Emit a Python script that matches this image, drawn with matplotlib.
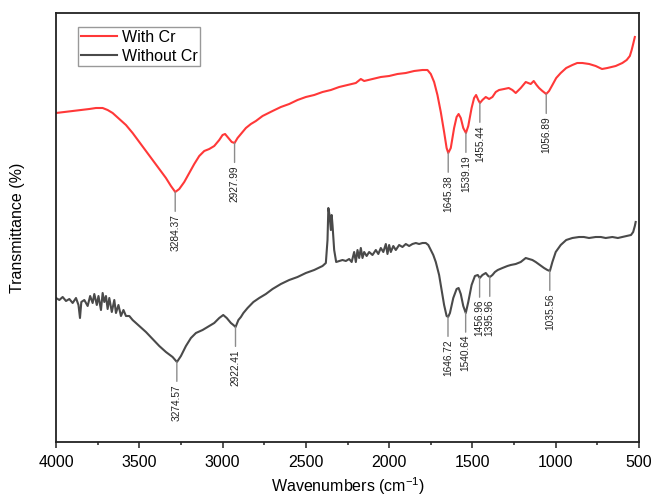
import matplotlib
matplotlib.use("Agg")
import matplotlib.pyplot as plt
import numpy as np

plt.rcParams['font.family'] = ['Liberation Sans', 'DejaVu Sans']
plt.rcParams['mathtext.default'] = 'regular'

# FTIR spectra (wavenumber, transmittance in arbitrary units)
with_cr_wn = [4000, 3950, 3900, 3850, 3800, 3760, 3720, 3690, 3660, 3620, 3580, 3540,
              3500, 3460, 3420, 3380, 3340, 3310, 3284, 3260, 3230, 3200, 3170, 3140,
              3110, 3080, 3050, 3020, 3000, 2985, 2965, 2945, 2928, 2910, 2890, 2860,
              2830, 2800, 2760, 2700, 2650, 2600, 2550, 2500, 2450, 2400, 2350, 2300,
              2250, 2200, 2170, 2150, 2100, 2050, 2000, 1950, 1900, 1850, 1800, 1770,
              1750, 1730, 1710, 1690, 1670, 1655, 1645, 1630, 1610, 1595, 1583, 1570,
              1555, 1539, 1525, 1505, 1490, 1478, 1465, 1455, 1440, 1420, 1400, 1380,
              1360, 1340, 1310, 1282, 1260, 1240, 1210, 1180, 1165, 1150, 1132, 1115,
              1100, 1080, 1057, 1040, 1020, 997, 970, 937, 900, 871, 840, 799,
              760, 722, 690, 640, 600, 574, 555, 544, 535, 525]
with_cr_t = [329, 330, 331, 332, 333, 334, 334, 332, 329, 323, 317, 309,
             300, 291, 282, 273, 264, 256, 250, 253, 260, 269, 278, 286,
             291, 293, 296, 302, 307, 308, 304, 300, 299, 304, 308, 314,
             318, 321, 326, 331, 335, 338, 342, 345, 347, 350, 352, 355,
             357, 359, 363, 361, 363, 365, 366, 368, 369, 371, 372, 372,
             368, 360, 347, 330, 310, 294, 289, 294, 314, 325, 328, 324,
             314, 309, 316, 334, 344, 347, 342, 339, 342, 345, 343, 345,
             350, 352, 353, 354, 352, 349, 354, 360, 359, 358, 361, 357,
             354, 351, 348, 351, 357, 364, 369, 374, 377, 379, 379, 378,
             376, 373, 374, 376, 379, 382, 386, 392, 398, 405]

without_cr_wn = [4000, 3980, 3960, 3940, 3920, 3900, 3880, 3865, 3856, 3848, 3830, 3810,
                 3795, 3780, 3770, 3755, 3745, 3730, 3720, 3710, 3700, 3690, 3680, 3665,
                 3650, 3640, 3625, 3610, 3595, 3580, 3560, 3540, 3500, 3460, 3420, 3380,
                 3340, 3300, 3274, 3250, 3220, 3190, 3160, 3120, 3080, 3050, 3020, 2996,
                 2975, 2950, 2935, 2922, 2905, 2890, 2875, 2850, 2815, 2780, 2740, 2700,
                 2650, 2600, 2550, 2500, 2450, 2400, 2380, 2370, 2365, 2358, 2350, 2345,
                 2340, 2330, 2318, 2300, 2280, 2260, 2240, 2225, 2210, 2200, 2190, 2180,
                 2170, 2160, 2150, 2135, 2120, 2100, 2080, 2065, 2050, 2035, 2020, 2010,
                 2000, 1990, 1975, 1960, 1940, 1920, 1900, 1880, 1860, 1840, 1820, 1800,
                 1780, 1765, 1750, 1735, 1720, 1700, 1685, 1670, 1655, 1646, 1635, 1615,
                 1595, 1583, 1570, 1555, 1540, 1525, 1505, 1485, 1468, 1456, 1440, 1420,
                 1405, 1395, 1380, 1365, 1348, 1320, 1290, 1270, 1240, 1210, 1180, 1160,
                 1140, 1120, 1095, 1070, 1050, 1035, 1020, 1000, 970, 937, 900, 860,
                 831, 800, 760, 729, 700, 660, 627, 600, 570, 548, 535, 525, 520]
without_cr_t = [144, 142, 145, 141, 143, 139, 144, 137, 124, 140, 142, 136,
                146, 139, 148, 137, 146, 132, 149, 140, 146, 133, 144, 130,
                142, 129, 137, 126, 132, 126, 126, 122, 116, 110, 103, 96,
                90, 85, 80, 86, 96, 104, 109, 112, 116, 119, 124, 127,
                124, 119, 117, 115, 122, 125, 129, 134, 140, 144, 148, 153,
                158, 162, 165, 169, 172, 176, 179, 202, 234, 227, 212, 227,
                217, 192, 180, 181, 182, 181, 183, 180, 190, 180, 192, 184,
                194, 184, 190, 186, 190, 187, 192, 188, 194, 190, 198, 188,
                197, 190, 196, 192, 197, 195, 198, 196, 198, 199, 198, 199,
                199, 197, 192, 187, 180, 167, 152, 137, 126, 125, 129, 144,
                153, 154, 148, 136, 129, 140, 157, 166, 167, 164, 167, 169,
                166, 165, 167, 170, 172, 174, 176, 177, 178, 180, 184, 183,
                182, 180, 177, 174, 172, 171, 180, 190, 197, 202, 204, 205,
                205, 204, 205, 205, 204, 205, 204, 205, 206, 207, 210, 216, 220]

with_cr_peaks = [3284.37, 2927.99, 1645.38, 1539.19, 1455.44, 1056.89]
without_cr_peaks = [3274.57, 2922.41, 1646.72, 1540.64, 1456.96, 1395.96, 1035.56]

red = '#FF3838'
dark = '#4A4A4A'

fig = plt.figure(figsize=(6.52, 5.0), dpi=100)
ax = fig.add_axes([56 / 652, 58 / 500, 583 / 652, 429 / 500])

ax.plot(with_cr_wn, with_cr_t, color=red, lw=1.5, label='With Cr')
ax.plot(without_cr_wn, without_cr_t, color=dark, lw=1.5, label='Without Cr')


def label_peaks(wn, t, peaks):
    xs = np.array(wn)[::-1]
    ys = np.array(t)[::-1]
    for p in peaks:
        y = np.interp(p, xs, ys)
        ax.annotate(f"{p:.2f}", xy=(p, y), xytext=(0, -16), textcoords='offset points',
                    rotation=90, ha='center', va='top', fontsize=7.3, color='#222222',
                    arrowprops=dict(arrowstyle='-', color='#8C8C8C', lw=1,
                                    shrinkA=0, shrinkB=0))


label_peaks(with_cr_wn, with_cr_t, with_cr_peaks)
label_peaks(without_cr_wn, without_cr_t, without_cr_peaks)

ax.set_xlim(4000, 500)
ax.set_ylim(0, 429)
ax.set_xticks([4000, 3500, 3000, 2500, 2000, 1500, 1000, 500])
ax.set_xticks(np.arange(750, 4000, 500), minor=True)
ax.tick_params(axis='x', which='major', direction='out', length=4.5, width=1.1,
               labelsize=11.5, pad=5, color='#222222')
ax.tick_params(axis='x', which='minor', direction='out', length=2.5, width=1.1,
               color='#222222')
ax.set_yticks([])
for s in ax.spines.values():
    s.set_linewidth(1.3)
    s.set_color('#222222')

ax.set_xlabel('Wavenumbers (cm$^{-1}$)', fontsize=11.5, labelpad=4)
ax.set_ylabel('Transmittance (%)', fontsize=11.5, labelpad=22)

leg = ax.legend(loc='upper left', bbox_to_anchor=(0.038, 0.967), borderaxespad=0,
                fontsize=11.5, handlelength=2.3, handletextpad=0.3, labelspacing=0.25,
                borderpad=0.15, fancybox=False, framealpha=1)
leg.get_frame().set_edgecolor('#999999')
leg.get_frame().set_linewidth(1)

plt.savefig('out.png', dpi=100)
